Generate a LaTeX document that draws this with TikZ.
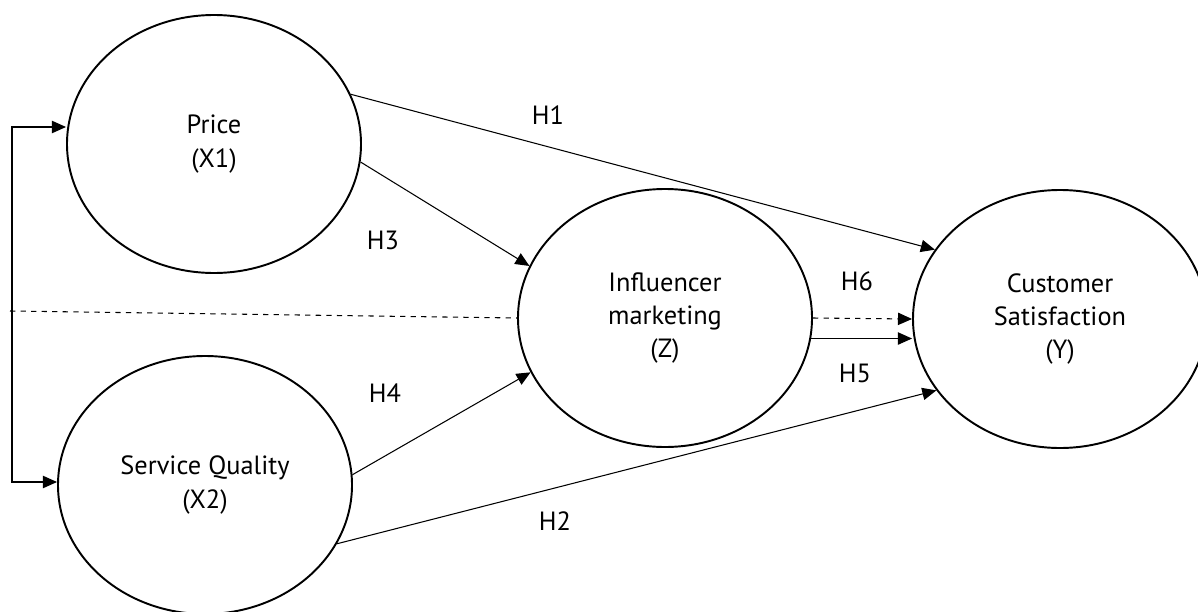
\documentclass[tikz,border=0pt]{standalone}
\usepackage{fontspec}
\setmainfont{PT Sans}
\usetikzlibrary{arrows.meta}
\usetikzlibrary{shapes.geometric}
\usetikzlibrary{positioning}
\tikzset{var/.style = {draw, ellipse, line width = 1.1pt, minimum width = 5.88cm, minimum height = 5.16cm, inner sep = 0, align = center, font = \fontsize{15}{19}\selectfont}}
\tikzset{tip/.style = {Triangle[length = 8pt, width = 7pt]}}
\tikzset{hyp/.style = {line width = 0.6pt, -{Triangle[length = 8pt, width = 7pt]}}}
\tikzset{lab/.style = {font = \fontsize{15}{19}\selectfont}}

\begin{document}
\begin{tikzpicture}
      \useasboundingbox (0, 0) rectangle (23.96, -12.24);

      \node [var] (price) at (4.28, -2.88) {Price\\(X1)};
      \node [var] (quality) at (4.10, -9.70) {Service Quality\\(X2)};
      \node [var] (infl) at (13.30, -6.36) {Influencer\\marketing\\(Z)};
      \node [var] (satis) at (21.20, -6.38) {Customer\\Satisfaction\\(Y)};

      \coordinate (brk1) at (0.24, -2.54);
      \coordinate (brk2) at (0.24, -9.64);
      \coordinate (dash) at (0.2, -6.22);

      \draw [line width = 0.6pt, {Triangle[length = 8pt, width = 7pt]}-{Triangle[length = 8pt, width = 7pt]}]
            (brk1 -| price.west) -- (brk1) -- (brk2) -- (brk2 -| quality.west);
      \draw [line width = 0.6pt, dashed] (dash) -- (infl.west);

      \draw [hyp] (price.20) -- (satis.151);
      \draw [hyp] (price.-7) -- (infl.159);
      \draw [hyp] (quality.4) -- (infl.202);
      \draw [hyp] (quality.-24) -- (satis.210);
      \draw [hyp, dashed] (infl.east) -- (satis.west);
      \draw [hyp] (infl.-8) -- (infl.-8 -| satis.west);

      \node [lab] (h1) at (10.96, -2.30) {H1};
      \node [lab] (h3) at (7.66, -4.80) {H3};
      \node [lab] (h6) at (17.14, -5.62) {H6};
      \node [lab] (h5) at (17.10, -7.46) {H5};
      \node [lab] (h4) at (7.70, -7.86) {H4};
      \node [lab] (h2) at (11.10, -10.42) {H2};
    \end{tikzpicture}
\end{document}
